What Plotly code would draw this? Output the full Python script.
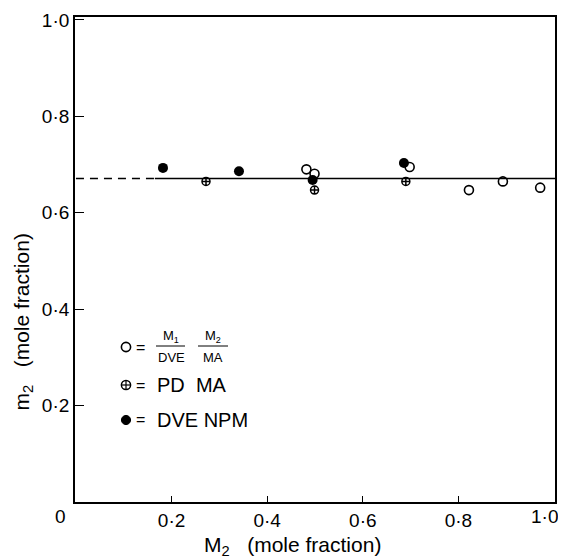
import plotly.graph_objects as go

# Data
open_x = [0.482, 0.499, 0.698, 0.822, 0.893, 0.971]
open_y = [0.690, 0.681, 0.695, 0.647, 0.665, 0.652]

plus_x = [0.272, 0.499, 0.690]
plus_y = [0.665, 0.647, 0.665]

filled_x = [0.182, 0.341, 0.495, 0.686]
filled_y = [0.693, 0.686, 0.668, 0.703]

line_level = 0.671
dash_x = [0.0, 0.165]
solid_x = [0.165, 1.002]

x_tickvals = [0.2, 0.4, 0.6, 0.8]
x_ticktext = ["0·2", "0·4", "0·6", "0·8"]
origin_label = "0"
end_label = "1·0"
y_tickvals = [0.2, 0.4, 0.6, 0.8, 1.0]
y_ticktext = ["0·2", "0·4", "0·6", "0·8", "1·0"]

FONT = "Liberation Sans"
OFF = 8  # page body margin in the browser

fig = go.Figure()
fig.add_trace(go.Scatter(x=dash_x, y=[line_level] * 2, mode="lines",
                         line=dict(color="black", width=1.5, dash="8px,6px"),
                         showlegend=False, hoverinfo="skip"))
fig.add_trace(go.Scatter(x=solid_x, y=[line_level] * 2, mode="lines",
                         line=dict(color="black", width=1.5),
                         showlegend=False, hoverinfo="skip"))
fig.add_trace(go.Scatter(x=open_x, y=open_y, mode="markers",
                         marker=dict(symbol="circle-open", size=9, color="black",
                                     line=dict(width=1.6)),
                         showlegend=False))
fig.add_trace(go.Scatter(x=plus_x, y=plus_y, mode="markers",
                         marker=dict(symbol="circle-cross-open", size=8, color="black",
                                     line=dict(width=1.5)),
                         showlegend=False))
fig.add_trace(go.Scatter(x=filled_x, y=filled_y, mode="markers",
                         marker=dict(symbol="circle", size=10, color="black"),
                         showlegend=False))

fig.update_layout(
    width=566 - OFF, height=558 - OFF,
    margin=dict(l=75 - OFF, r=11, t=17 - OFF, b=56, autoexpand=False),
    paper_bgcolor="white", plot_bgcolor="white",
    font=dict(family=FONT, size=16, color="black"),
    xaxis=dict(range=[-0.002, 1.002], tickvals=x_tickvals, ticktext=x_ticktext,
               ticks="inside", ticklen=6, tickwidth=1, tickcolor="black",
               showgrid=False, zeroline=False, showline=True, linecolor="black",
               linewidth=1.8, mirror=True, tickfont=dict(size=19)),
    yaxis=dict(range=[0, 1.006], tickvals=y_tickvals, ticktext=y_ticktext,
               ticks="inside", ticklen=9, tickwidth=1, tickcolor="black",
               showgrid=False, zeroline=False, showline=True, linecolor="black",
               linewidth=1.8, mirror=True, tickfont=dict(size=19)),
)


def px(xp):
    return (xp - 75) / 480


def py(yp):
    return (502 - yp) / 485


ann = []
ann.append(dict(text=origin_label, xref="paper", yref="paper", x=px(60), y=py(517),
                showarrow=False, font=dict(size=19), xanchor="center", yanchor="middle"))
ann.append(dict(text=end_label, xref="paper", yref="paper", x=px(560), y=py(517),
                showarrow=False, font=dict(size=19), xanchor="right", yanchor="middle"))
# axis titles
ann.append(dict(text="M<sub>2</sub>   (mole fraction)", xref="paper", yref="paper",
                x=px(202), y=py(546), showarrow=False,
                font=dict(size=21), xanchor="left", yanchor="middle"))
ann.append(dict(text="m<sub>2</sub>   (mole fraction)", xref="paper", yref="paper",
                x=px(22), y=py(413), showarrow=False,
                textangle=-90, font=dict(size=21), xanchor="center", yanchor="bottom"))

# legend
for yy in [347, 385, 420]:
    ann.append(dict(text="=", xref="paper", yref="paper", x=px(140), y=py(yy),
                    showarrow=False, font=dict(size=16), xanchor="center", yanchor="middle"))
ann.append(dict(text="PD  MA", xref="paper", yref="paper", x=px(155), y=py(385),
                showarrow=False, font=dict(size=20), xanchor="left", yanchor="middle"))
ann.append(dict(text="DVE NPM", xref="paper", yref="paper", x=px(155), y=py(420),
                showarrow=False, font=dict(size=20), xanchor="left", yanchor="middle"))
# fraction texts
for cx, top, bot in [(171, "M<sub>1</sub>", "DVE"), (213, "M<sub>2</sub>", "MA")]:
    ann.append(dict(text=top, xref="paper", yref="paper", x=px(cx), y=py(336),
                    showarrow=False, font=dict(size=13), xanchor="center", yanchor="middle"))
    ann.append(dict(text=bot, xref="paper", yref="paper", x=px(cx), y=py(357),
                    showarrow=False, font=dict(size=13), xanchor="center", yanchor="middle"))
fig.update_layout(annotations=ann)

shapes = []
for x0, x1 in [(156, 185), (198, 228)]:
    shapes.append(dict(type="line", xref="paper", yref="paper",
                       x0=px(x0), x1=px(x1), y0=py(346), y1=py(346),
                       line=dict(color="black", width=1)))
# legend symbols
r = 4.6
cxl = 126
shapes.append(dict(type="circle", xref="paper", yref="paper",
                   x0=px(cxl - r), x1=px(cxl + r), y0=py(347 + r), y1=py(347 - r),
                   line=dict(color="black", width=1.6)))
shapes.append(dict(type="circle", xref="paper", yref="paper",
                   x0=px(cxl - r), x1=px(cxl + r), y0=py(385 + r), y1=py(385 - r),
                   line=dict(color="black", width=1.5)))
shapes.append(dict(type="line", xref="paper", yref="paper",
                   x0=px(cxl - r), x1=px(cxl + r), y0=py(385), y1=py(385),
                   line=dict(color="black", width=1.2)))
shapes.append(dict(type="line", xref="paper", yref="paper",
                   x0=px(cxl), x1=px(cxl), y0=py(385 + r), y1=py(385 - r),
                   line=dict(color="black", width=1.2)))
shapes.append(dict(type="circle", xref="paper", yref="paper",
                   x0=px(cxl - r), x1=px(cxl + r), y0=py(420 + r), y1=py(420 - r),
                   fillcolor="black", line=dict(color="black", width=1)))
fig.update_layout(shapes=shapes)

fig.write_html("out.html")
